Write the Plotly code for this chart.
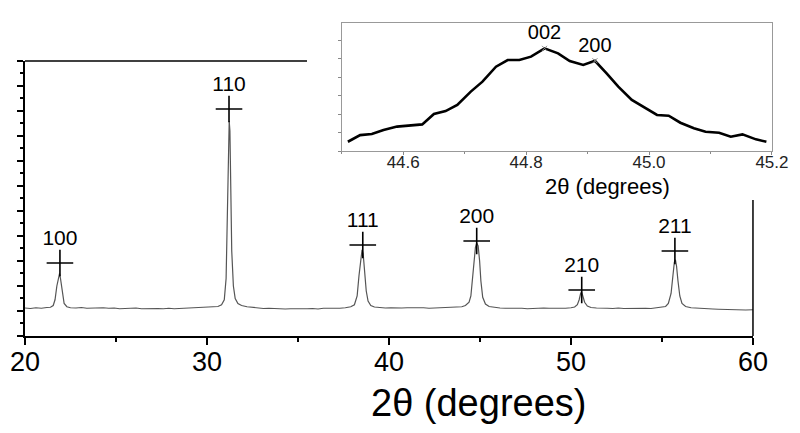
import plotly.graph_objects as go

# main XRD pattern (2theta in degrees, intensity in arbitrary units)
two_theta = [
    20.0, 20.3, 20.6, 20.9, 21.2, 21.4, 21.55, 21.65, 21.75, 21.85, 21.9, 21.95, 22.05, 22.15, 22.3,
    22.5, 22.8, 23.1, 23.4, 23.7, 24.0, 24.3, 24.6, 24.9, 25.2, 25.5, 25.8, 26.1, 26.4, 26.7,
    27.0, 27.3, 27.6, 27.9, 28.2, 28.5, 28.8, 29.1, 29.4, 29.7, 30.0, 30.3, 30.6, 30.8, 30.95,
    31.05, 31.12, 31.18, 31.22, 31.26, 31.3, 31.36, 31.45, 31.55, 31.7, 31.9, 32.2, 32.5, 32.8, 33.1,
    33.4, 33.7, 34.0, 34.3, 34.6, 34.9, 35.2, 35.5, 35.8, 36.1, 36.4, 36.7, 37.0, 37.3, 37.6,
    37.9, 38.1, 38.25, 38.35, 38.45, 38.52, 38.58, 38.65, 38.75, 38.85, 39.0, 39.2, 39.5, 39.8, 40.1,
    40.4, 40.7, 41.0, 41.3, 41.6, 41.9, 42.2, 42.5, 42.8, 43.1, 43.4, 43.7, 44.0, 44.2, 44.4,
    44.5, 44.6, 44.68, 44.75, 44.82, 44.9, 44.98, 45.05, 45.15, 45.3, 45.5, 45.8, 46.1, 46.4, 46.7,
    47.0, 47.3, 47.6, 47.9, 48.2, 48.5, 48.8, 49.1, 49.4, 49.7, 50.0, 50.2, 50.35, 50.45, 50.53,
    50.58, 50.65, 50.75, 50.9, 51.1, 51.4, 51.7, 52.0, 52.3, 52.6, 52.9, 53.2, 53.5, 53.8, 54.1,
    54.4, 54.7, 55.0, 55.2, 55.35, 55.5, 55.6, 55.68, 55.74, 55.8, 55.88, 55.98, 56.1, 56.3, 56.6,
    56.9, 57.2, 57.5, 57.8, 58.1, 58.4, 58.7, 59.0, 59.3, 59.6, 60.0,
]
intensity = [
    1.12, 1.10, 1.13, 1.11, 1.14, 1.15, 1.22, 1.45, 2.00, 2.45, 2.50, 2.30, 1.70, 1.30, 1.17,
    1.13, 1.12, 1.14, 1.11, 1.12, 1.10, 1.13, 1.11, 1.12, 1.09, 1.11, 1.10, 1.12, 1.09, 1.10,
    1.08, 1.10, 1.09, 1.11, 1.09, 1.10, 1.12, 1.11, 1.13, 1.12, 1.14, 1.15, 1.18, 1.25, 1.45,
    2.30, 4.50, 7.20, 8.60, 8.20, 6.00, 3.40, 2.00, 1.50, 1.30, 1.22, 1.17, 1.14, 1.12, 1.10,
    1.11, 1.09, 1.10, 1.08, 1.09, 1.08, 1.10, 1.09, 1.10, 1.08, 1.11, 1.10, 1.12, 1.11, 1.13,
    1.17, 1.25, 1.60, 2.40, 3.20, 3.45, 3.30, 2.60, 1.80, 1.40, 1.22, 1.16, 1.13, 1.12, 1.13,
    1.11, 1.12, 1.13, 1.14, 1.12, 1.13, 1.11, 1.12, 1.10, 1.11, 1.12, 1.14, 1.17, 1.22, 1.35,
    1.60, 2.30, 3.00, 3.55, 3.72, 3.60, 3.00, 2.20, 1.55, 1.28, 1.18, 1.14, 1.12, 1.11, 1.12,
    1.10, 1.11, 1.09, 1.11, 1.10, 1.12, 1.11, 1.10, 1.12, 1.11, 1.13, 1.16, 1.25, 1.45, 1.70,
    1.77, 1.60, 1.35, 1.20, 1.14, 1.12, 1.10, 1.11, 1.10, 1.12, 1.10, 1.11, 1.09, 1.10, 1.11,
    1.10, 1.12, 1.14, 1.18, 1.30, 1.70, 2.40, 2.95, 3.05, 2.80, 2.20, 1.60, 1.30, 1.18, 1.13,
    1.11, 1.10, 1.09, 1.08, 1.07, 1.06, 1.07, 1.05, 1.06, 1.04, 1.05,
]

# indexed reflections
peak_labels = ["100", "110", "111", "200", "210", "211"]
peak_pos = [21.92, 31.21, 38.56, 44.82, 50.59, 55.71]
peak_mark = [2.92, 9.08, 3.64, 3.80, 1.84, 3.40]

# inset: zoom on the 44.5-45.2 region
inset_x = [
    44.510, 44.530, 44.549, 44.568, 44.590, 44.609, 44.631, 44.650, 44.669, 44.688, 44.710, 44.729,
    44.751, 44.770, 44.789, 44.808, 44.830, 44.852, 44.871, 44.893, 44.912, 44.931, 44.950, 44.972,
    44.991, 45.013, 45.032, 45.051, 45.073, 45.092, 45.114, 45.133, 45.152, 45.174, 45.191,
]
inset_y = [
    0.50, 0.86, 0.92, 1.14, 1.32, 1.37, 1.44, 2.00, 2.16, 2.49, 3.21, 3.75,
    4.56, 4.92, 4.92, 5.10, 5.55, 5.28, 4.86, 4.65, 4.88, 4.20, 3.48, 2.76,
    2.40, 1.95, 1.91, 1.53, 1.23, 1.04, 0.99, 0.77, 0.90, 0.63, 0.50,
]
inset_labels = ["002", "200"]
inset_peak_x = [44.830, 44.912]
inset_peak_y = [5.55, 4.88]

FONT = "Arial, Liberation Sans, sans-serif"

fig = go.Figure()

fig.add_trace(go.Scatter(x=two_theta, y=intensity, mode="lines",
                         line=dict(color="#555", width=1.2), showlegend=False))
fig.add_trace(go.Scatter(x=peak_pos, y=peak_mark, mode="markers+text",
                         marker=dict(symbol="cross-thin", size=19, line=dict(color="black", width=1.6)),
                         text=peak_labels, textposition="top center",
                         textfont=dict(size=21, color="black", family=FONT),
                         showlegend=False))

# inset
fig.add_trace(go.Scatter(x=inset_x, y=inset_y, mode="lines", xaxis="x2", yaxis="y2",
                         line=dict(color="black", width=2.6), showlegend=False))
fig.add_trace(go.Scatter(x=inset_peak_x, y=inset_peak_y, mode="markers+text", xaxis="x2", yaxis="y2",
                         marker=dict(symbol="x-thin", size=5, line=dict(color="#888", width=1)),
                         text=inset_labels, textposition="top center",
                         textfont=dict(size=20, color="black", family=FONT),
                         showlegend=False))

fig.update_layout(
    width=800, height=433, autosize=False,
    margin=dict(l=25, r=20, t=20, b=97),
    plot_bgcolor="white", paper_bgcolor="white",
    font=dict(family=FONT, color="black"),
    xaxis=dict(domain=[0, 0.9642], range=[20, 60], dtick=10, tick0=20, automargin=False,
               showline=True, linecolor="black", linewidth=1.5,
               ticks="outside", ticklen=7, tickwidth=1.5, tickcolor="black",
               minor=dict(dtick=5, ticks="outside", ticklen=4, tickcolor="black"),
               ticklabelstandoff=-6,
               showgrid=False, zeroline=False, tickfont=dict(size=27)),
    yaxis=dict(domain=[0, 0.8703], range=[0, 11], dtick=1, automargin=False,
               showline=True, linecolor="black", linewidth=1.5,
               ticks="outside", ticklen=6, tickwidth=1.5, tickcolor="black",
               minor=dict(dtick=0.5, ticks="outside", ticklen=3, tickcolor="black"),
               showticklabels=False, showgrid=False, zeroline=False),
    xaxis2=dict(domain=[0.4195, 0.9894], anchor="y2", range=[44.5, 45.2001], automargin=False,
                tick0=44.6, dtick=0.2, tickformat=".1f",
                showline=True, mirror=True, linecolor="#999", linewidth=1,
                ticks="outside", ticklen=3, tickcolor="#888",
                minor=dict(dtick=0.1, ticks="outside", ticklen=2, tickcolor="#888"),
                ticklabelstandoff=-7,
                showgrid=False, zeroline=False, tickfont=dict(size=17, color="#222")),
    yaxis2=dict(domain=[0.5854, 0.9905], anchor="x2", range=[0, 6.92], dtick=1, automargin=False,
                showline=True, mirror=True, linecolor="#999", linewidth=1,
                ticks="outside", ticklen=3, tickcolor="#888",
                showticklabels=False, showgrid=False, zeroline=False),
    shapes=[
        # pieces of the main frame not hidden behind the inset
        dict(type="line", xref="paper", yref="paper", x0=0, x1=0.3735, y0=0.8703, y1=0.8703,
             line=dict(color="black", width=1.5)),
        dict(type="line", xref="paper", yref="paper", x0=0.9642, x1=0.9642, y0=0, y1=0.4304,
             line=dict(color="black", width=1.5)),
    ],
    annotations=[
        dict(text="2θ (degrees)", xref="paper", yref="paper", x=0.771, y=0.472,
             xanchor="center", yanchor="middle", showarrow=False, font=dict(size=22)),
        dict(text="2θ (degrees)", xref="paper", yref="paper", x=0.600, y=-0.212,
             xanchor="center", yanchor="middle", showarrow=False, font=dict(size=38)),
    ],
)

# page body has a default margin and may get scrollbars; drop both
fig.write_html("out.html",
               config={"displayModeBar": False, "responsive": False},
               post_script="document.body.style.margin='0';document.body.style.overflow='hidden';")
